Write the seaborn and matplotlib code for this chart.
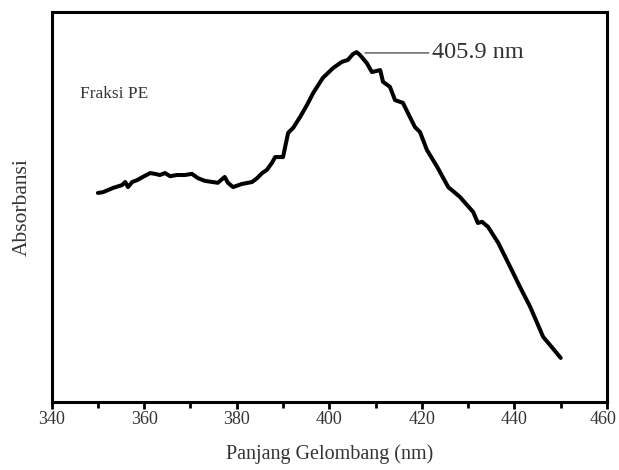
import matplotlib
matplotlib.use("Agg")
import matplotlib.pyplot as plt
import matplotlib.transforms as mtransforms
from matplotlib.ticker import MultipleLocator
import pandas as pd
import seaborn as sns

# UV-Vis spectrum of the PE fraction (relative absorbance)
wavelength = [350.0, 351.1, 353.3, 355.2, 355.9, 356.5, 357.4, 358.5, 359.7, 361.3,
              362.3, 363.4, 364.5, 365.6, 367.1, 368.8, 370.3, 371.6, 373.1, 375.9,
              377.4, 378.1, 379.2, 381.1, 383.3, 384.4, 385.5, 386.5, 387.6, 388.3,
              390.0, 391.1, 392.2, 393.7, 395.2, 396.5, 398.6, 400.8, 402.7, 404.0,
              405.1, 405.9, 406.6, 408.1, 409.2, 411.0, 411.6, 413.1, 414.2, 415.9,
              417.4, 418.5, 419.6, 421.1, 423.3, 425.7, 428.2, 431.1, 432.1, 433.0,
              434.3, 436.5, 439.1, 441.2, 443.4, 446.2, 447.7, 450.0]
absorbance = [0.536, 0.538, 0.549, 0.556, 0.564, 0.551, 0.564, 0.569, 0.577, 0.587,
              0.585, 0.582, 0.587, 0.579, 0.582, 0.582, 0.585, 0.574, 0.567, 0.562,
              0.577, 0.562, 0.551, 0.559, 0.564, 0.574, 0.587, 0.595, 0.613, 0.628,
              0.628, 0.690, 0.703, 0.731, 0.762, 0.792, 0.831, 0.856, 0.872, 0.877,
              0.892, 0.897, 0.890, 0.869, 0.846, 0.851, 0.821, 0.808, 0.774, 0.767,
              0.731, 0.705, 0.692, 0.646, 0.603, 0.551, 0.526, 0.487, 0.459, 0.462,
              0.449, 0.408, 0.346, 0.295, 0.244, 0.167, 0.146, 0.113]

peak_nm = 405.9
peak_label = "405.9 nm"
sample_label = "Fraksi PE"
x_label = "Panjang Gelombang (nm)"
y_label = "Absorbansi"
x_ticks = [340, 360, 380, 400, 420, 440, 460]

df = pd.DataFrame({"wavelength": wavelength, "absorbance": absorbance})

sns.set_style("ticks")
plt.rcParams["font.family"] = ["Liberation Serif", "DejaVu Serif"]

fig = plt.figure(figsize=(6.19, 4.70), dpi=100)
ax = fig.add_axes([0.0834, 0.1447, 0.8972, 0.8298])

sns.lineplot(data=df, x="wavelength", y="absorbance", ax=ax,
             color="black", linewidth=2.9, sort=False)

ax.set_xlim(340, 460)
ax.set_ylim(0, 1)
ax.set_xticks(x_ticks)
ax.xaxis.set_minor_locator(MultipleLocator(10))
ax.set_yticks([])

for side in ["left", "right", "top", "bottom"]:
    ax.spines[side].set_visible(True)
    ax.spines[side].set_linewidth(2.2)
    ax.spines[side].set_color("black")

ax.tick_params(axis="x", which="major", direction="out", length=5, width=2,
               labelsize=13, pad=1.5, colors="black")
ax.tick_params(axis="x", which="minor", direction="out", length=4, width=2,
               colors="black")
for lbl in ax.get_xticklabels():
    lbl.set_color("#333333")

# keep the last tick label inside the figure edge
last = ax.get_xticklabels()[-1]
last.set_transform(last.get_transform()
                   + mtransforms.ScaledTranslation(-4 / 100, 0, fig.dpi_scale_trans))

ax.set_xlabel(x_label, fontsize=14.5, color="#333333", labelpad=12)
ax.set_ylabel(y_label, fontsize=15.5, color="#333333", labelpad=14)

ax.text(346.2, 0.79, sample_label, fontsize=12.5, color="#333333",
        ha="left", va="center")

peak_abs = absorbance[wavelength.index(peak_nm)]
ax.annotate(peak_label, xy=(peak_nm + 1.8, peak_abs - 0.002),
            xytext=(422.2, peak_abs - 0.002),
            fontsize=17.5, color="#333333", ha="left", va="center",
            arrowprops=dict(arrowstyle="-", color="#444444", lw=0.9,
                            shrinkA=0, shrinkB=0))

fig.savefig("out.png", dpi=100)
